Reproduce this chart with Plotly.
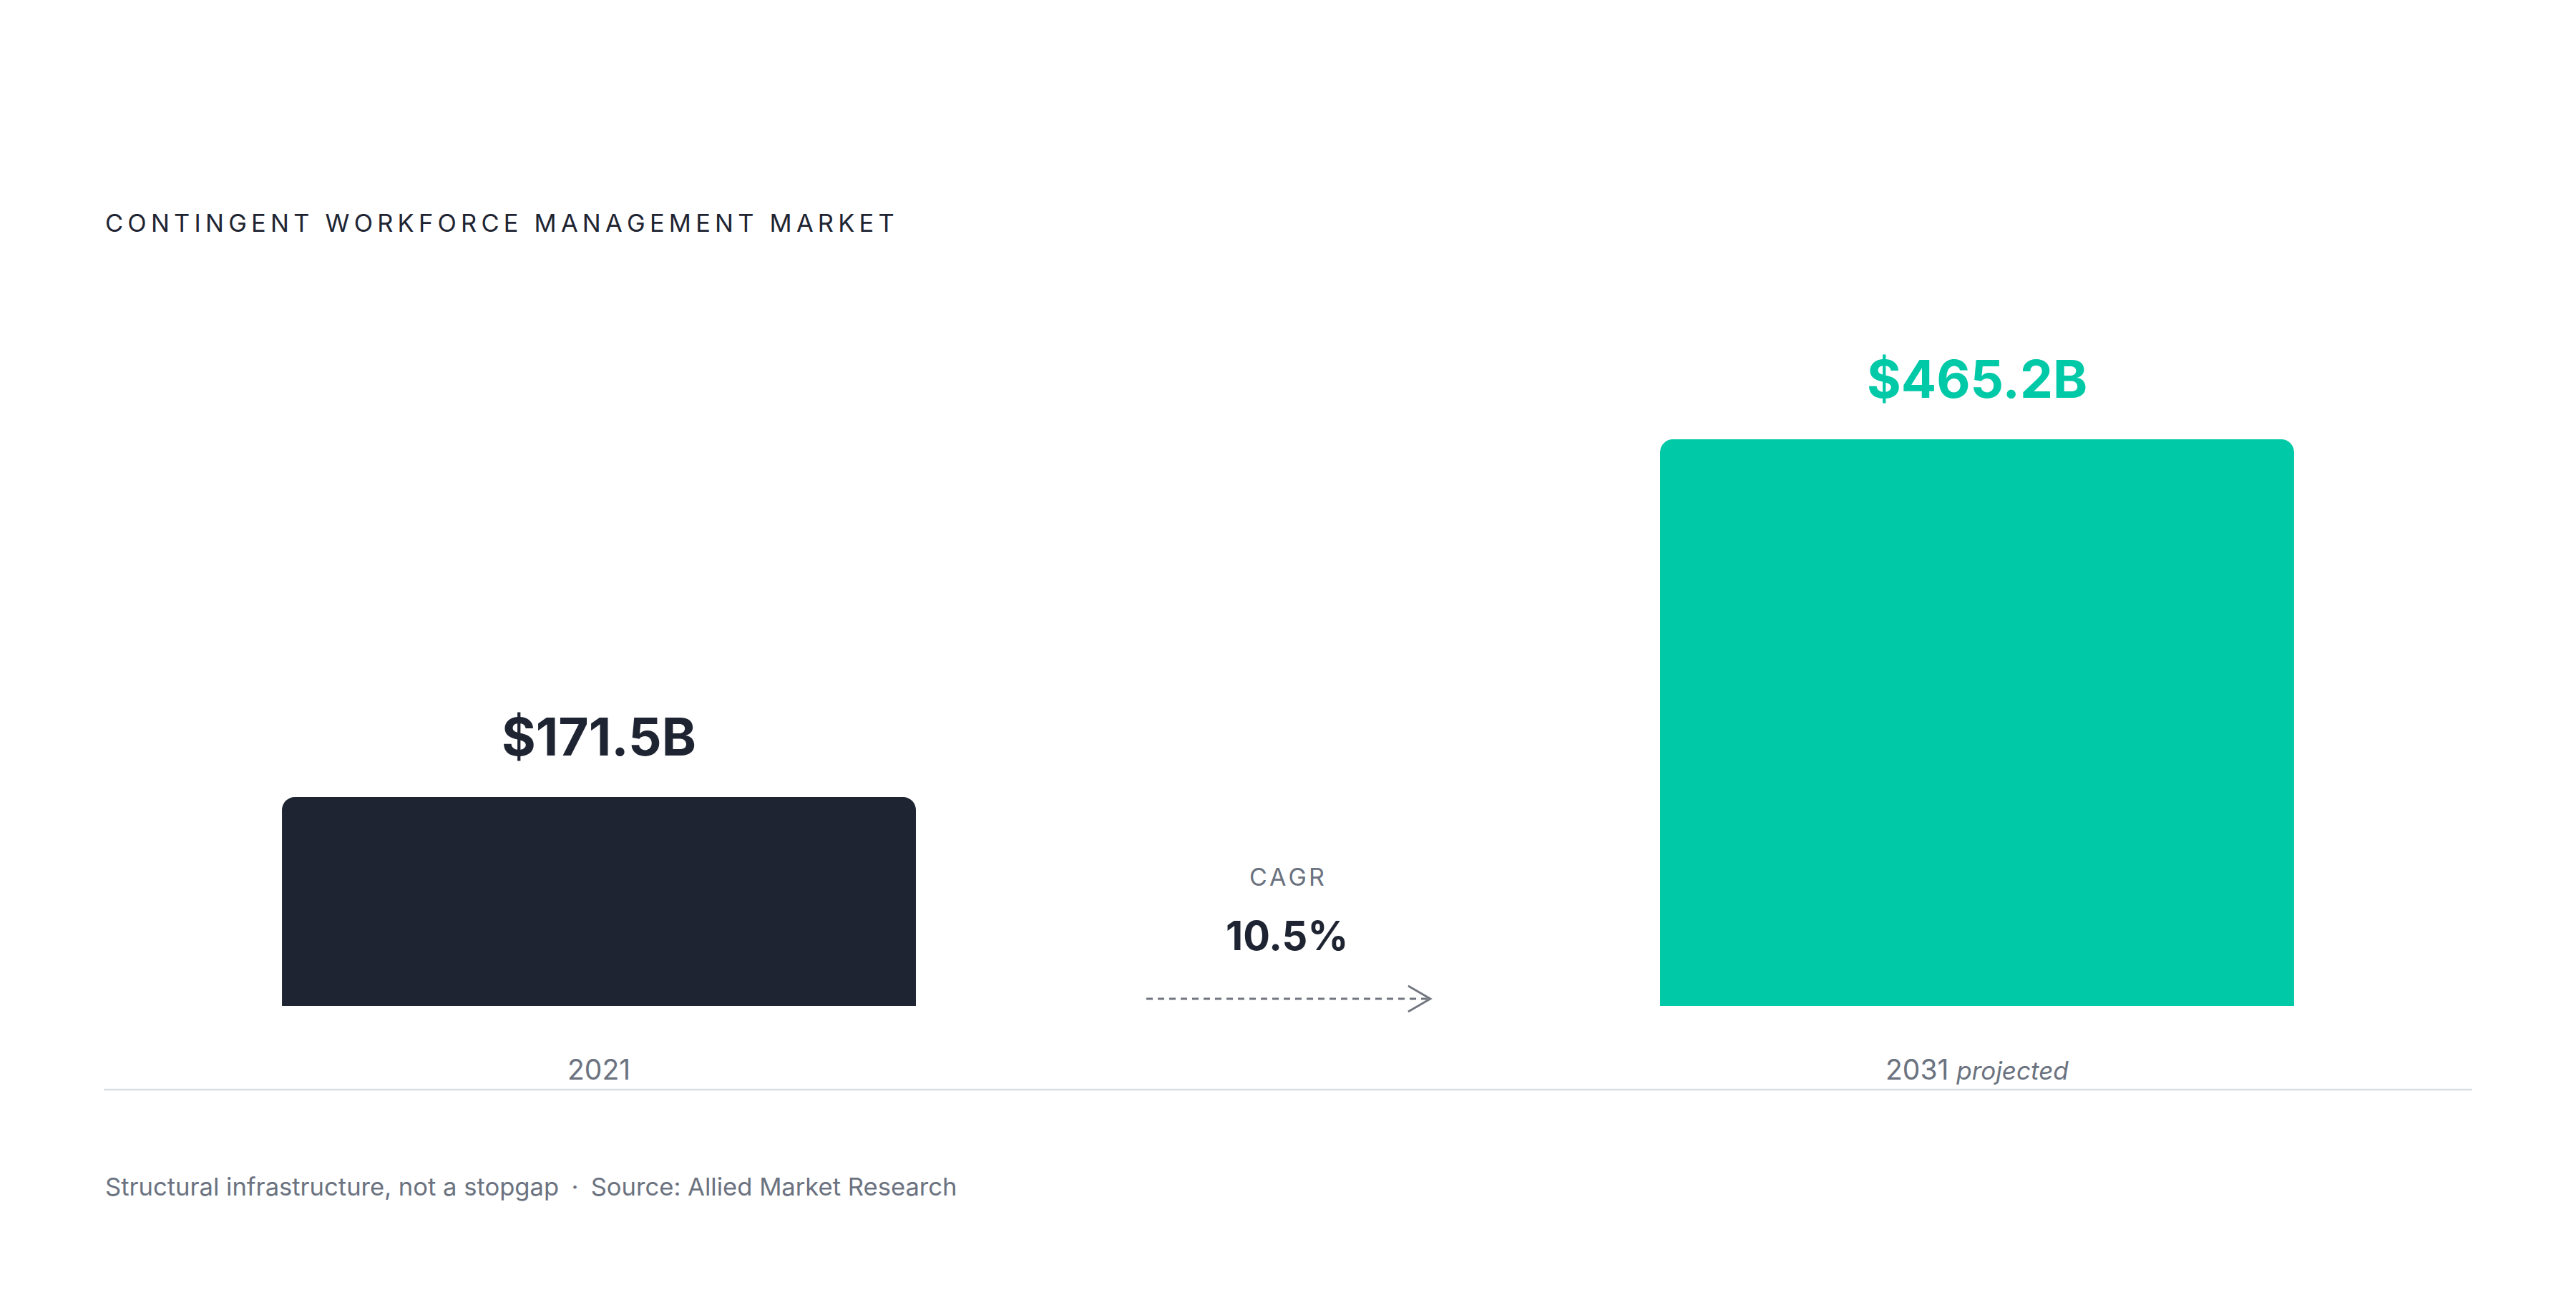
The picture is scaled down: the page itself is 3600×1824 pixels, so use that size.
import plotly.graph_objects as go

# ---- data ----
categories = ["2021", "2031"]
values = [171.5, 465.2]
value_labels = ["$171.5B", "$465.2B"]
tick_labels = ["2021", "2031 <span style='font-size:35px'><i>projected</i></span>"]
bar_colors = ["#1e2432", "#00c9a7"]
label_colors = ["#1e2432", "#00c9a7"]
cagr_label = "CAGR"
cagr_value = "10.5%"
title_text = "CONTINGENT WORKFORCE MANAGEMENT MARKET"
footer_text = "Structural infrastructure, not a stopgap\u2002\u00b7\u2002Source: Allied Market Research"

W, H = 3600, 1824
FONT = "Inter"
GRAY = "#6b7280"
DARK = "#1e2432"


def spaced(s, sep="\u2009"):
    return sep.join(list(s))


def px(x):
    return x / W


def py(y):
    return 1 - y / H


xpos = list(range(len(categories)))

fig = go.Figure()
fig.add_trace(go.Bar(
    x=xpos, y=values, width=0.46,
    marker=dict(color=bar_colors, line=dict(width=0)),
    hoverinfo="skip", showlegend=False,
))

# value labels above bars
for xp, v, t, col in zip(xpos, values, value_labels, label_colors):
    fig.add_annotation(x=xp, y=v, xref="x", yref="y", text=t, showarrow=False,
                       yanchor="bottom", yshift=38,
                       font=dict(family=FONT, size=73, color=col, weight=700))

# category labels below
for xp, t in zip(xpos, tick_labels):
    fig.add_annotation(x=xp, y=py(1494), xref="x", yref="paper", text=t, showarrow=False,
                       yanchor="middle", font=dict(family=FONT, size=39, color=GRAY))

annotations_extra = [
    dict(x=px(145), y=py(312), xref="paper", yref="paper", xanchor="left", yanchor="middle",
         text=spaced(title_text), showarrow=False,
         font=dict(family=FONT, size=34.4, color=DARK, weight=400)),
    dict(x=px(1798), y=py(1225), xref="paper", yref="paper", xanchor="center", yanchor="middle",
         text=spaced(cagr_label, "\u200a"), showarrow=False,
         font=dict(family=FONT, size=34, color=GRAY)),
    dict(x=px(1798), y=py(1308), xref="paper", yref="paper", xanchor="center", yanchor="middle",
         text=cagr_value, showarrow=False,
         font=dict(family=FONT, size=56, color=DARK, weight=700)),
    dict(x=px(145), y=py(1658), xref="paper", yref="paper", xanchor="left", yanchor="middle",
         text=footer_text, showarrow=False,
         font=dict(family=FONT, size=34.6, color=GRAY)),
]
for a in annotations_extra:
    fig.add_annotation(**a)

shapes = [
    # baseline rule
    dict(type="line", xref="paper", yref="paper", x0=px(145), x1=px(3455), y0=py(1523), y1=py(1523),
         line=dict(color="#dcdde0", width=2.5)),
    # dashed arrow shaft
    dict(type="line", xref="paper", yref="paper", x0=px(1602), x1=px(1996), y0=py(1396), y1=py(1396),
         line=dict(color="#71757e", width=2.8, dash="9px,7px")),
    # arrow head
    dict(type="path", xref="paper", yref="paper",
         path=f"M {px(1968)} {py(1378)} L {px(1999)} {py(1396)} L {px(1968)} {py(1414)}",
         line=dict(color="#71757e", width=2.8)),
]
for s in shapes:
    fig.add_shape(**s)

y_unit = (1406 - 614) / 465.2
fig.update_layout(
    width=W, height=H,
    margin=dict(l=0, r=0, t=0, b=0),
    paper_bgcolor="white", plot_bgcolor="white",
    barcornerradius=18,
    xaxis=dict(range=[-0.4346, 1.4346], visible=False),
    yaxis=dict(range=[-(H - 1406) / y_unit, 1406 / y_unit], visible=False),
    showlegend=False,
)

fig.write_html("out.html", config={"displayModeBar": False},
               post_script="document.body.style.margin='0';")
